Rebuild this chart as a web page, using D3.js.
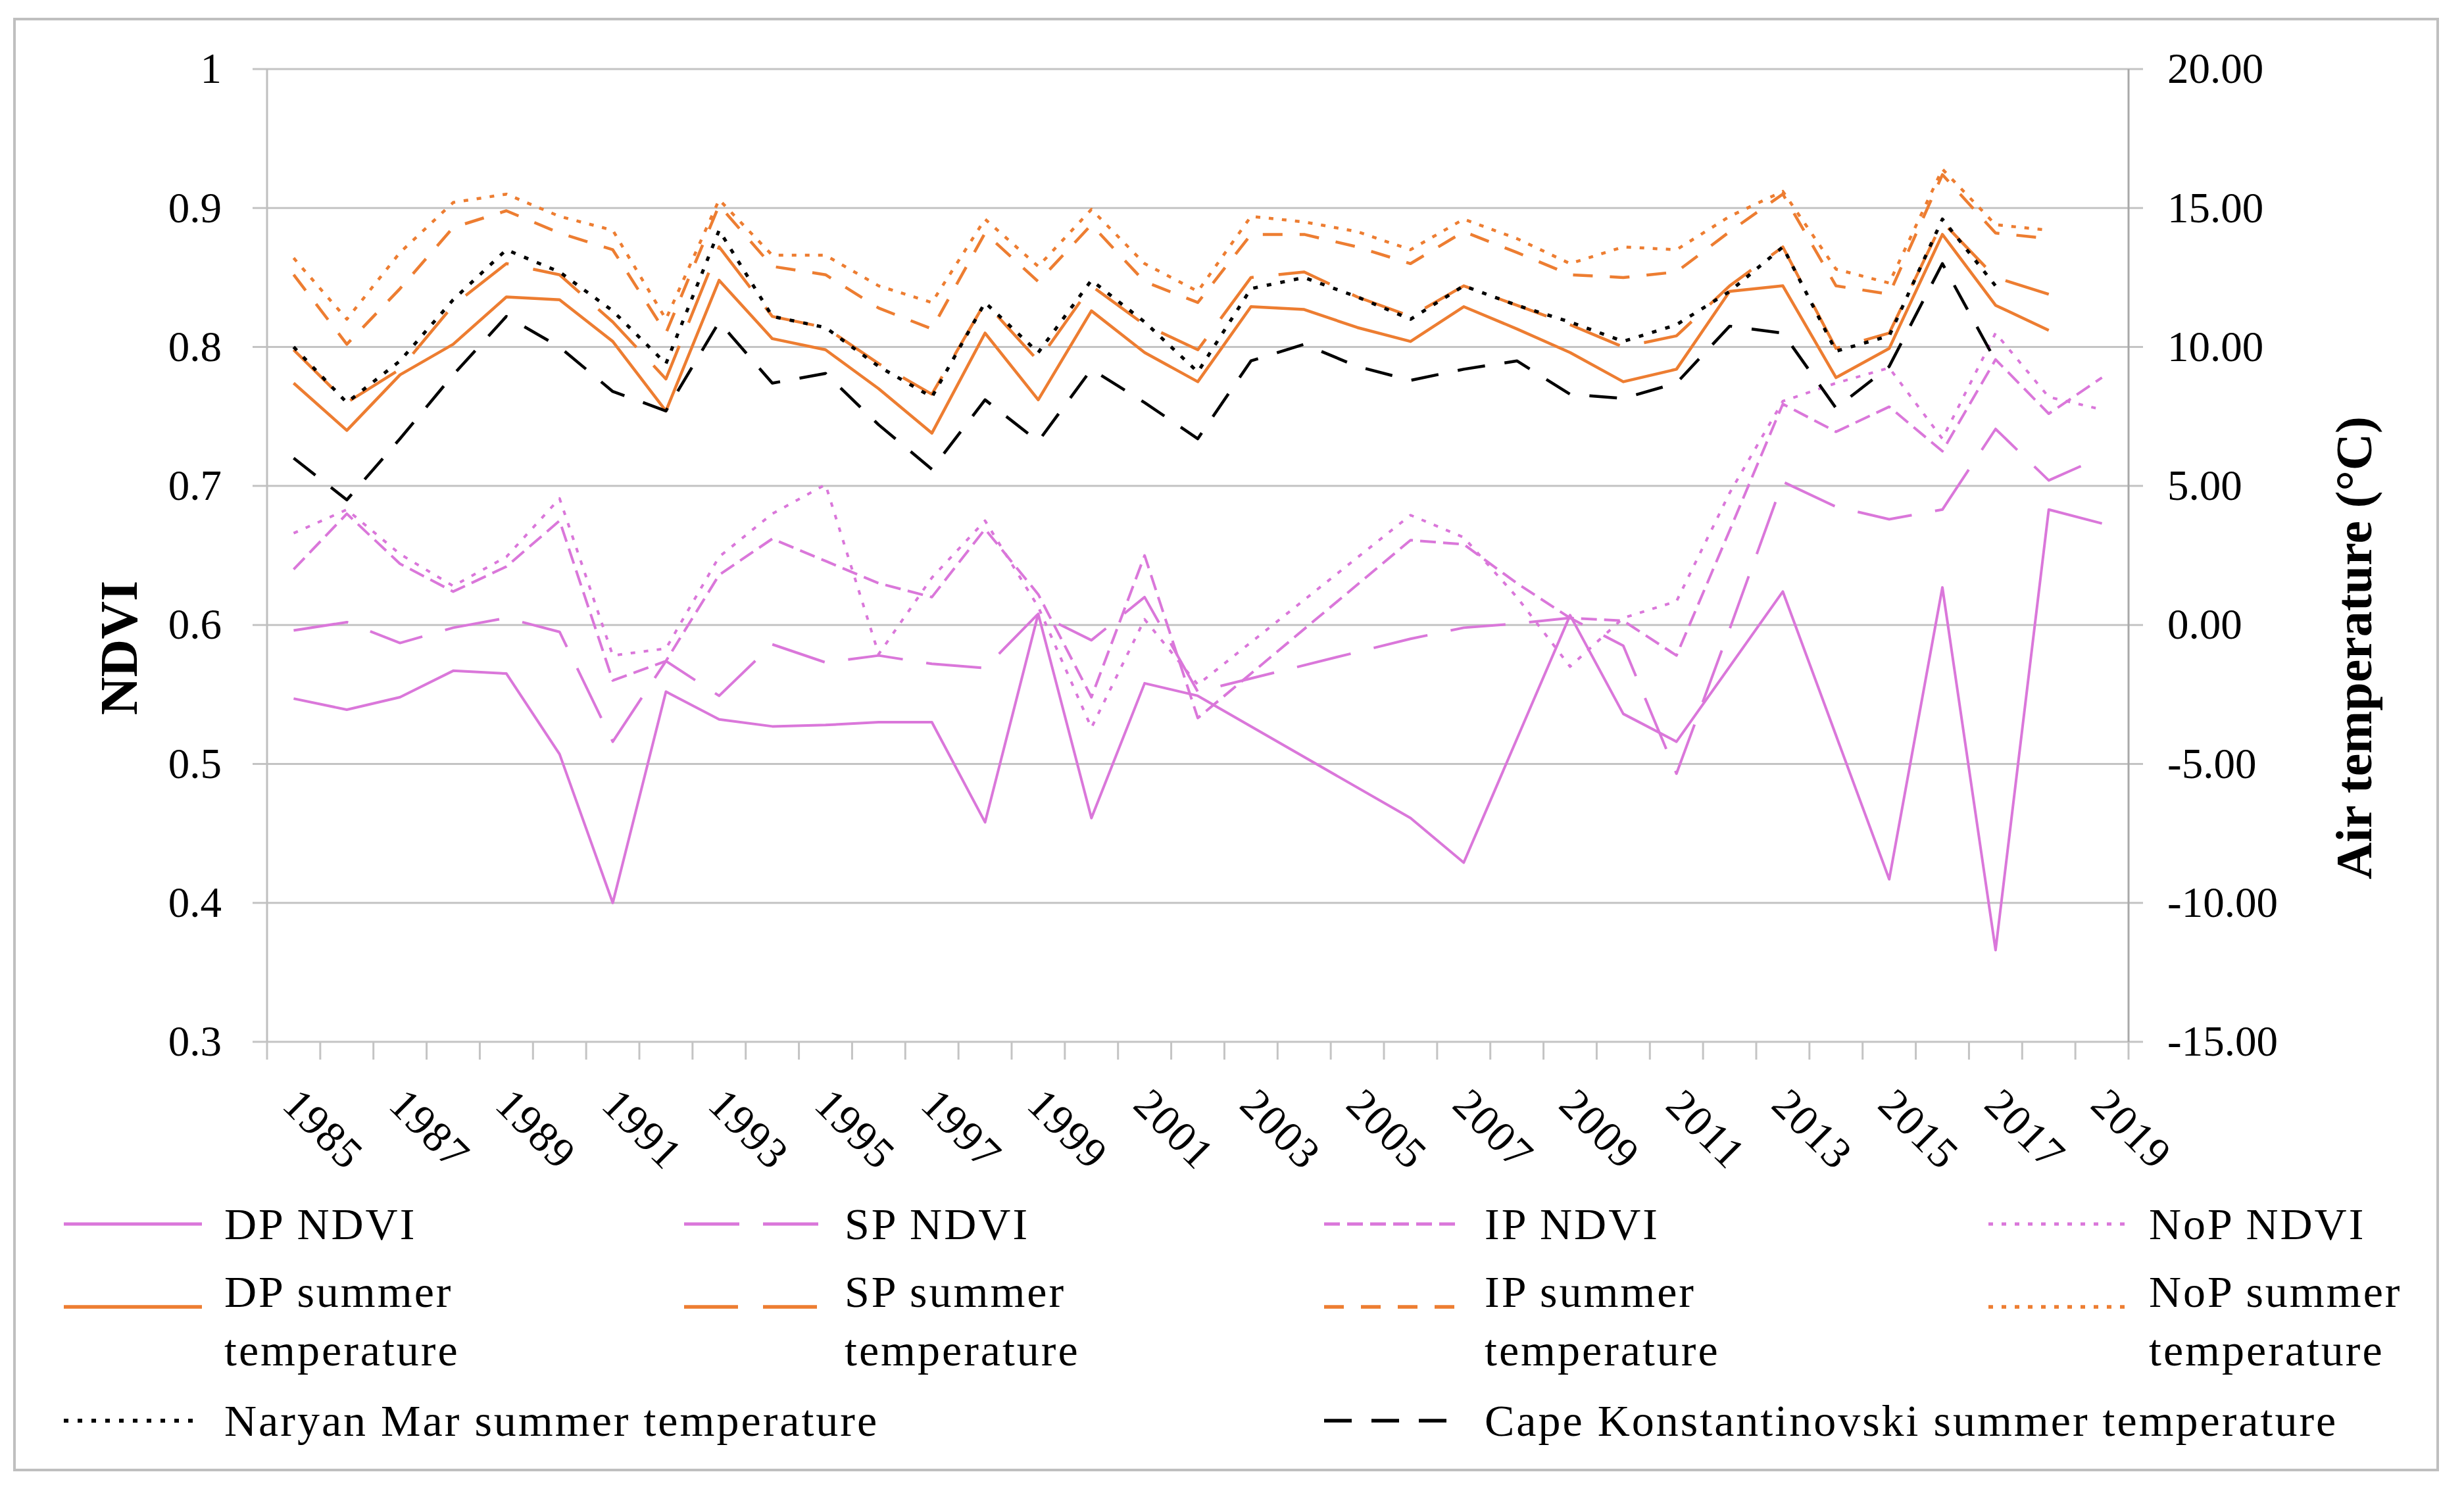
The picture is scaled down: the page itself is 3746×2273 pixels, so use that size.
<!DOCTYPE html>
<html>
<head>
<meta charset="utf-8">
<script src="https://cdn.jsdelivr.net/npm/d3@7"></script>
<style>
  body { margin: 0; background: #fff; }
  svg { display: block; }
  text { font-family: "Liberation Serif", "DejaVu Serif", serif; fill: #000; }
</style>
</head>
<body>
<svg id="chart" width="3746" height="2273"></svg>
<script>
// categories and tick labels
var years = [1985, 1986, 1987, 1988, 1989, 1990, 1991, 1992, 1993, 1994, 1995, 1996,
  1997, 1998, 1999, 2000, 2001, 2002, 2003, 2004, 2005, 2006, 2007, 2008,
  2009, 2010, 2011, 2012, 2013, 2014, 2015, 2016, 2017, 2018, 2019];
var yearLabels = [1985, 1987, 1989, 1991, 1993, 1995, 1997, 1999, 2001, 2003,
  2005, 2007, 2009, 2011, 2013, 2015, 2017, 2019];
var ndviTicks = [0.3, 0.4, 0.5, 0.6, 0.7, 0.8, 0.9, 1];
var tempTicks = [-15, -10, -5, 0, 5, 10, 15, 20];

// NDVI (left axis), null = no value, line joins across
var dpNdvi = [0.547, 0.539, 0.548, 0.567, 0.565, 0.507, 0.400, 0.552, 0.532, 0.527, 0.528, 0.530,
  0.530, 0.458, 0.608, 0.461, 0.558, 0.549, null, null, null, 0.461, 0.429, null,
  0.607, 0.536, 0.516, null, 0.624, null, 0.417, 0.627, 0.366, 0.683, 0.673];
var spNdvi = [0.596, 0.602, 0.587, 0.598, 0.605, 0.595, 0.516, 0.574, 0.549, 0.586, 0.573, 0.578,
  0.572, 0.569, 0.608, 0.589, 0.620, 0.552, null, null, null, 0.590, 0.598, 0.601,
  0.605, 0.585, 0.493, 0.597, 0.703, 0.685, 0.676, 0.683, 0.741, 0.704, 0.721];
var ipNdvi = [0.640, 0.680, 0.644, 0.624, 0.642, 0.675, 0.560, 0.574, 0.636, 0.662, 0.646, 0.630,
  0.620, 0.669, 0.622, 0.548, 0.650, 0.533, null, null, null, 0.661, 0.658, 0.630,
  0.605, 0.603, 0.578, 0.668, 0.759, 0.739, 0.757, 0.725, 0.791, 0.752, 0.778];
var nopNdvi = [0.666, 0.683, 0.651, 0.628, 0.649, 0.691, 0.578, 0.583, 0.649, 0.680, 0.701, 0.579,
  0.634, 0.675, 0.613, 0.526, 0.604, 0.557, null, null, null, 0.679, 0.663, 0.620,
  0.570, 0.605, 0.617, 0.695, 0.761, 0.774, 0.785, 0.734, 0.810, 0.764, 0.755];

// summer air temperature, °C (right axis)
var dpTemp = [8.7, 7.0, 9.0, 10.1, 11.8, 11.7, 10.2, 7.7, 12.4, 10.3, 9.9, 8.5,
  6.9, 10.5, 8.1, 11.3, 9.8, 8.75, 11.45, 11.35, 10.7, 10.2, 11.45, 10.65,
  9.8, 8.75, 9.2, 12.0, 12.2, 8.9, 9.95, 14.05, 11.5, 10.6, null];
var spTemp = [9.9, 8.0, 9.2, 11.5, 13.0, 12.6, 10.9, 8.85, 13.6, 11.1, 10.7, 9.4,
  8.3, 11.6, 9.5, 12.2, 10.8, 9.9, 12.5, 12.7, 11.8, 11.1, 12.2, 11.5,
  10.8, 10.0, 10.4, 12.2, 13.6, 9.95, 10.5, 14.5, 12.5, 11.9, null];
var ipTemp = [12.6, 10.1, 12.1, 14.3, 14.9, 14.1, 13.5, 10.5, 15.1, 12.9, 12.6, 11.4,
  10.65, 14.1, 12.35, 14.4, 12.35, 11.6, 14.05, 14.05, 13.6, 13.0, 14.15, 13.4,
  12.6, 12.5, 12.7, 14.15, 15.5, 12.2, 11.9, 16.2, 14.1, 13.9, null];
var nopTemp = [13.2, 11.0, 13.4, 15.2, 15.5, 14.7, 14.2, 11.0, 15.3, 13.3, 13.3, 12.2,
  11.6, 14.6, 12.9, 14.95, 13.0, 12.0, 14.7, 14.5, 14.15, 13.5, 14.6, 13.9,
  13.0, 13.6, 13.5, 14.7, 15.6, 12.8, 12.3, 16.4, 14.4, 14.2, null];
var naryanMar = [10.0, 8.0, 9.5, 11.7, 13.5, 12.7, 11.3, 9.4, 14.2, 11.1, 10.7, 9.3,
  8.2, 11.6, 9.8, 12.4, 10.9, 9.1, 12.1, 12.5, 11.8, 11.0, 12.2, 11.5,
  10.9, 10.2, 10.8, 12.0, 13.6, 9.85, 10.4, 14.6, 12.2, null, null];
var capeKonst = [6.0, 4.5, 6.7, 9.0, 11.1, 10.0, 8.4, 7.7, 10.9, 8.7, 9.05, 7.2,
  5.6, 8.1, 6.6, 9.2, 8.0, 6.7, 9.5, 10.1, 9.3, 8.8, 9.2, 9.5,
  8.3, 8.15, 8.7, 10.75, 10.5, 7.8, 9.3, 13.0, 9.5, null, null];

var PINK = "#da77da", ORANGE = "#ed7d31", BLACK = "#000";

var series = [
  { name: "DP NDVI", values: dpNdvi, axis: "L", color: PINK, dash: null, w: 4 },
  { name: "SP NDVI", values: spNdvi, axis: "L", color: PINK, dash: "84,36", w: 4 },
  { name: "IP NDVI", values: ipNdvi, axis: "L", color: PINK, dash: "24,11", w: 4 },
  { name: "NoP NDVI", values: nopNdvi, axis: "L", color: PINK, dash: "7,13", w: 4 },
  { name: "DP summer temperature", values: dpTemp, axis: "R", color: ORANGE, dash: null, w: 4.5 },
  { name: "SP summer temperature", values: spTemp, axis: "R", color: ORANGE, dash: "82,38", w: 4.5 },
  { name: "IP summer temperature", values: ipTemp, axis: "R", color: ORANGE, dash: "30,26", w: 4.5 },
  { name: "NoP summer temperature", values: nopTemp, axis: "R", color: ORANGE, dash: "7,13", w: 4.5 },
  { name: "Naryan Mar summer temperature", values: naryanMar, axis: "R", color: BLACK, dash: "7,14", w: 5 },
  { name: "Cape Konstantinovski summer temperature", values: capeKonst, axis: "R", color: BLACK, dash: "42,30", w: 4.5 }
];

var svg = d3.select("#chart");
var pLeft = 406, pRight = 3236, pTop = 105, pBottom = 1584;

svg.append("rect")
    .attr("x", 22).attr("y", 29).attr("width", 3684).attr("height", 2206)
    .attr("fill", "#fff").attr("stroke", "#bfbfbf").attr("stroke-width", 4);

var x = d3.scalePoint().domain(years).range([pLeft, pRight]).padding(0.5);
var xb = d3.scaleBand().domain(years).range([pLeft, pRight]);
var yL = d3.scaleLinear().domain([0.3, 1]).range([pBottom, pTop]);
var yR = d3.scaleLinear().domain([-15, 20]).range([pBottom, pTop]);

// gridlines (run out past both axes like tick marks)
svg.append("g").selectAll("line")
    .data(ndviTicks)
  .enter().append("line")
    .attr("x1", pLeft - 22).attr("x2", pRight + 22)
    .attr("y1", function(d) { return yL(d); })
    .attr("y2", function(d) { return yL(d); })
    .attr("stroke", "#c4c4c4").attr("stroke-width", 3);

// vertical axis lines
svg.append("line").attr("x1", pLeft).attr("x2", pLeft).attr("y1", pTop).attr("y2", pBottom)
    .attr("stroke", "#bfbfbf").attr("stroke-width", 3);
svg.append("line").attr("x1", pRight).attr("x2", pRight).attr("y1", pTop).attr("y2", pBottom)
    .attr("stroke", "#a9a9a9").attr("stroke-width", 3);

// x tick marks at category boundaries
var bounds = years.map(function(d) { return xb(d); }).concat([xb.range()[1]]);
svg.append("g").selectAll("line")
    .data(bounds)
  .enter().append("line")
    .attr("x1", function(d) { return d; }).attr("x2", function(d) { return d; })
    .attr("y1", pBottom).attr("y2", pBottom + 27)
    .attr("stroke", "#c4c4c4").attr("stroke-width", 3);

// left axis labels
var axL = svg.append("g")
    .attr("transform", "translate(" + pLeft + ",0)")
    .call(d3.axisLeft(yL).tickValues(ndviTicks).tickSize(0).tickPadding(69)
      .tickFormat(function(d) { return String(+d.toFixed(1)); }));
axL.select(".domain").remove();
axL.selectAll("text").style("font-size", "65px").attr("fill", "#000")
    .style("font-family", "'Liberation Serif', serif");

// right axis labels
var axR = svg.append("g")
    .attr("transform", "translate(" + pRight + ",0)")
    .call(d3.axisRight(yR).tickValues(tempTicks).tickSize(0).tickPadding(59)
      .tickFormat(function(d) { return d.toFixed(2); }));
axR.select(".domain").remove();
axR.selectAll("text").style("font-size", "65px").attr("fill", "#000")
    .style("font-family", "'Liberation Serif', serif");

// rotated year labels
svg.append("g").selectAll("text")
    .data(yearLabels)
  .enter().append("text")
    .attr("transform", function(d) { return "translate(" + (x(d) + 46) + "," + 1716 + ") rotate(45)"; })
    .attr("text-anchor", "middle")
    .attr("dy", "0.35em")
    .style("font-size", "66px")
    .style("letter-spacing", "2px")
    .text(function(d) { return d; });

// axis titles
svg.append("text")
    .attr("transform", "translate(180,985) rotate(-90)")
    .attr("text-anchor", "middle").attr("dy", "0.35em")
    .style("font-size", "80px").style("font-weight", "bold")
    .text("NDVI");
svg.append("text")
    .attr("transform", "translate(3578,985) rotate(-90)")
    .attr("text-anchor", "middle").attr("dy", "0.35em")
    .style("font-size", "78px").style("font-weight", "bold")
    .text("Air temperature (°C)");

// series lines
var plot = svg.append("g");
series.forEach(function(s) {
  var scale = s.axis === "L" ? yL : yR;
  var pts = years.map(function(yr, i) { return [yr, s.values[i]]; })
      .filter(function(p) { return p[1] !== null; });
  var line = d3.line()
      .x(function(p) { return x(p[0]); })
      .y(function(p) { return scale(p[1]); });
  plot.append("path")
      .datum(pts)
      .attr("d", line)
      .attr("fill", "none")
      .attr("stroke", s.color)
      .attr("stroke-width", s.w)
      .attr("stroke-linejoin", "round")
      .attr("stroke-dasharray", s.dash);
});

// legend
var legendPos = [
  { x: 97, y: 1861, lines: ["DP NDVI"] },
  { x: 1040, y: 1861, lines: ["SP NDVI"] },
  { x: 2013, y: 1861, lines: ["IP NDVI"] },
  { x: 3023, y: 1861, lines: ["NoP NDVI"] },
  { x: 97, y: 1987, lines: ["DP summer", "temperature"] },
  { x: 1040, y: 1987, lines: ["SP summer", "temperature"] },
  { x: 2013, y: 1987, lines: ["IP summer", "temperature"] },
  { x: 3023, y: 1987, lines: ["NoP summer", "temperature"] },
  { x: 97, y: 2160, lines: ["Naryan Mar summer temperature"] },
  { x: 2013, y: 2160, lines: ["Cape Konstantinovski summer temperature"] }
];
var lg = svg.append("g");
series.forEach(function(s, i) {
  var p = legendPos[i];
  lg.append("line")
      .attr("x1", p.x).attr("x2", p.x + 210)
      .attr("y1", p.y).attr("y2", p.y)
      .attr("stroke", s.color).attr("stroke-width", s.w + 1)
      .attr("stroke-dasharray", s.dash);
  var t = lg.append("text")
      .attr("x", p.x + 244)
      .style("font-size", "68px")
      .style("letter-spacing", "3px");
  if (p.lines.length === 1) {
    t.attr("y", p.y + 23).text(p.lines[0]);
  } else {
    t.selectAll("tspan").data(p.lines).enter().append("tspan")
        .attr("x", p.x + 244)
        .attr("y", function(d, j) { return p.y + j * 89; })
        .text(function(d) { return d; });
  }
});
</script>
</body>
</html>
